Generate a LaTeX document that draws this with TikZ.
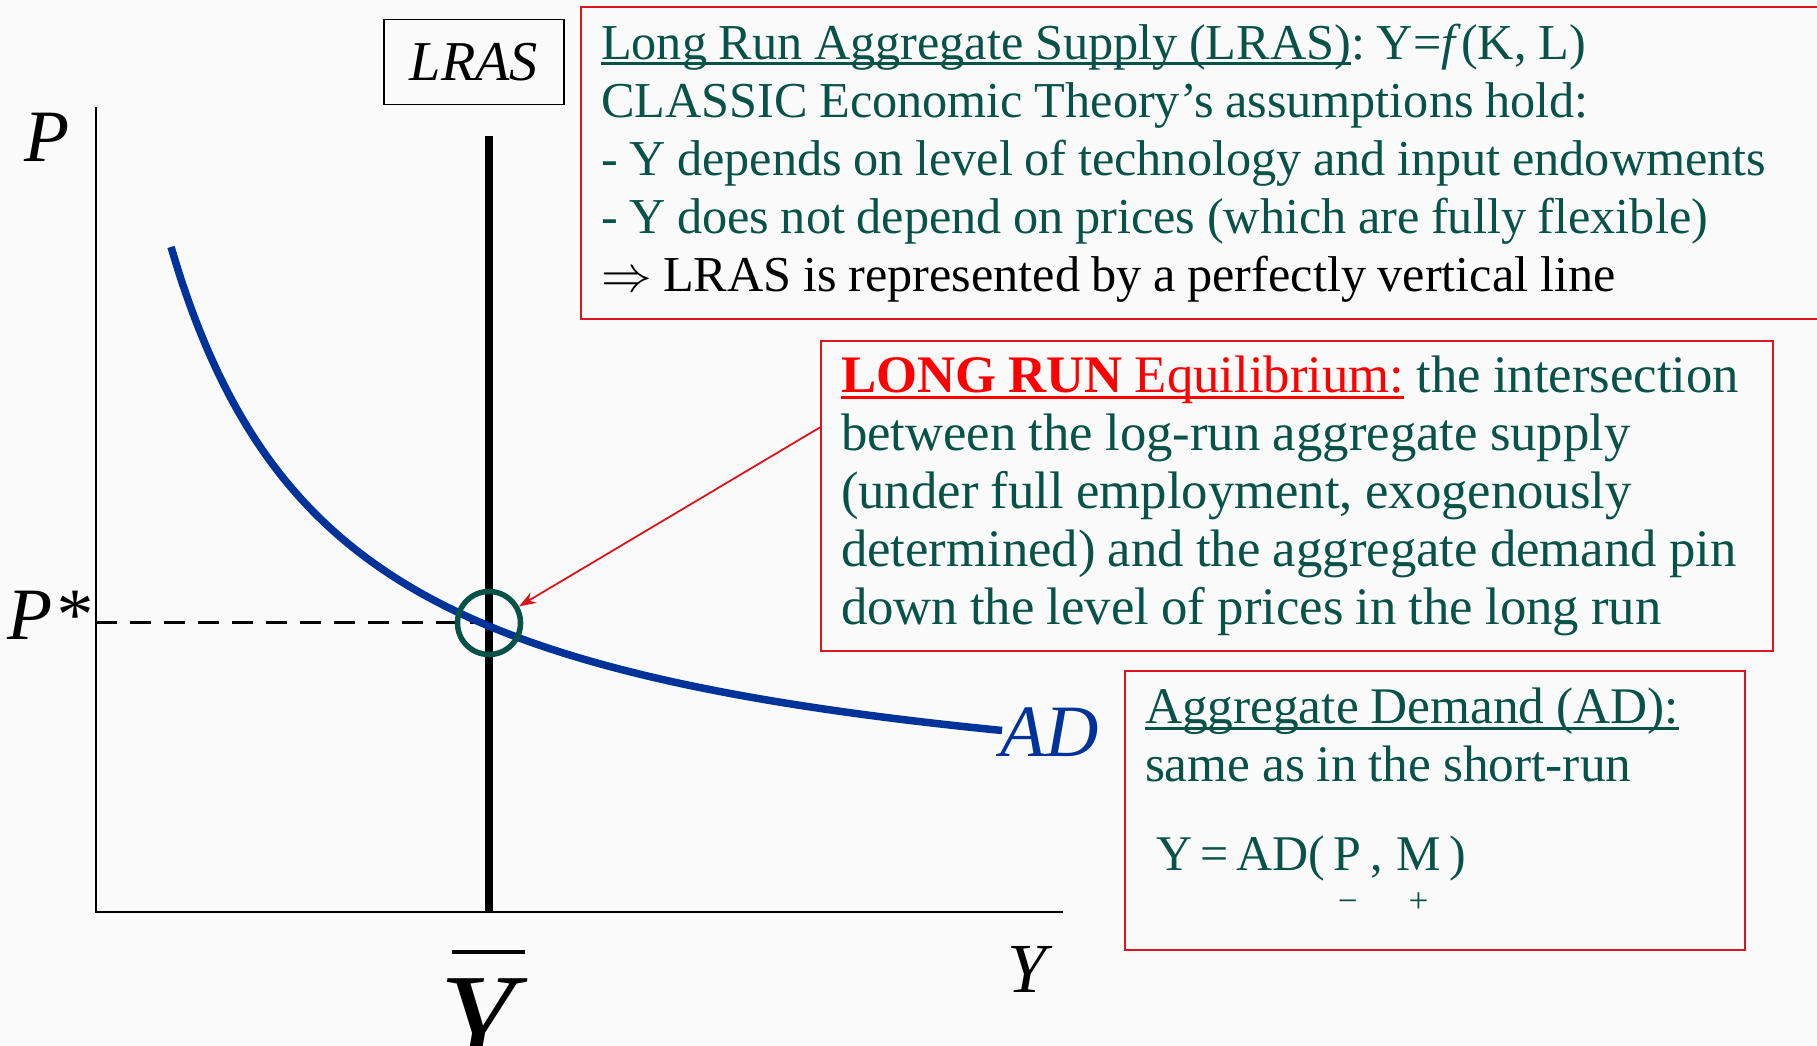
\documentclass[tikz,border=0pt]{standalone}
\usepackage{amsmath}
\usepackage{fontspec}
\setmainfont{Liberation Serif}
\usetikzlibrary{arrows.meta,positioning,calc}

\definecolor{ecoteal}{RGB}{8,82,72}
\definecolor{boxred}{RGB}{220,20,30}
\definecolor{adblue}{RGB}{0,51,153}
\definecolor{slidebg}{RGB}{250,250,250}

\newcommand{\signunder}[2]{\ooalign{#1\cr\hidewidth\raisebox{-0.42cm}{\fontsize{10}{10}\selectfont #2}\hidewidth\cr}}
\newcommand{\wsp}{\spaceskip=0.23em plus 0.1em minus 0.05em\relax}
\newcommand{\uln}[1]{\setbox0\hbox{#1}\rlap{\rule[-0.12em]{\wd0}{0.06em}}\box0}
\frenchspacing

\tikzset{
  notebox/.style={draw=boxred, line width=0.02cm, text=ecoteal, align=left, anchor=north west, inner xsep=0.2cm, inner ysep=0.17cm},
  axislbl/.style={inner sep=0, anchor=base, font=\fontsize{21}{21}\selectfont\itshape},
}

\begin{document}
\begin{tikzpicture}[x=0.01cm, y=-0.01cm]
\fill[slidebg] (0,0) rectangle (1817,1046);
\useasboundingbox (0,0) rectangle (1817,1046);

% axes
\coordinate (O) at (96,912);
\coordinate (ytop) at (96,107);
\coordinate (xend) at (1063,912);
\draw[line width=0.02cm] (ytop) -- (O) -- (xend);

% P* level
\coordinate (pstar) at (96,623);
\coordinate (lrasmid) at (489,623);
\draw[line width=0.03cm, dash pattern=on 0.21cm off 0.13cm] (pstar) -- (lrasmid);

% LRAS
\coordinate (lrastop) at (489,136);
\coordinate (lrasbot) at (489,912);
\draw[line width=0.08cm] (lrastop) -- (lrasbot);

% AD curve
\draw[adblue, line width=0.075cm] plot[domain=171:1002, samples=90, smooth] (\x, {830-997/(\x/100)});

\node[draw=ecoteal, line width=0.055cm, circle, minimum size=0.63cm, inner sep=0] (eqpt) at (lrasmid) {};

% labels
\node[axislbl] (plbl) at (47,162) {P};
\node[axislbl] (pstarlbl) at (49,640) {P*};
\node[axislbl, font=\fontsize{20}{20}\selectfont\itshape] (ylbl) at (1027,993) {Y};
\node[axislbl, text=adblue] (adlbl) at (1050,757) {AD};
\node[draw, line width=0.015cm, minimum width=1.8cm, minimum height=0.85cm, font=\fontsize{16}{16}\selectfont\itshape] (lrasbox) at (474,62) {LRAS};
\node[axislbl, font=\fontsize{39}{39}\selectfont\itshape] (ybar) at (478,1068) {Y};
\coordinate (barl) at (452,952);
\coordinate (barr) at (525,952);
\draw[line width=0.04cm] (barl) -- (barr);

% notes
\node[notebox, text width=12.3cm, font=\fontsize{14.3}{16.5}\selectfont] (lrasnote) at (580,6) {\wsp\uln{Long Run Aggregate Supply (LRAS)}: Y=\textit{f}(K, L)\\
CLASSIC Economic Theory’s assumptions hold:\\
- Y depends on level of technology and input endowments\\
- Y does not depend on prices (which are fully flexible)\\
\textcolor{black}{$\Rightarrow$ LRAS is represented by a perfectly vertical line}};

\node[notebox, text width=9.11cm, inner ysep=0.15cm, font=\fontsize{15}{16.5}\selectfont] (eqnote) at (820,340) {\wsp\textcolor{red}{\uln{\textbf{LONG RUN} Equilibrium:}} the intersection\\
between the log-run aggregate supply\\
(under full employment, exogenously\\
determined) and the aggregate demand pin\\
down the level of prices in the long run};

\node[notebox, text width=5.8cm, font=\fontsize{14.6}{16.5}\selectfont] (adnote) at (1124,670) {\wsp\uln{Aggregate Demand (AD):}\\
same as in the short-run\\[0.31cm]
\hspace*{0.11cm}{\fontsize{14.2}{16.5}\selectfont Y\,=\,AD(\,\signunder{P}{−}\,,\;\signunder{M}{+}\,)}\rule[-0.62cm]{0pt}{0pt}};

\coordinate (eqtail) at ($(eqnote.north west)!0.28!(eqnote.south west)$);
\draw[boxred, line width=0.018cm, -{Stealth[length=0.17cm, width=0.12cm]}] (eqtail) -- (eqpt.29);
\end{tikzpicture}
\end{document}
